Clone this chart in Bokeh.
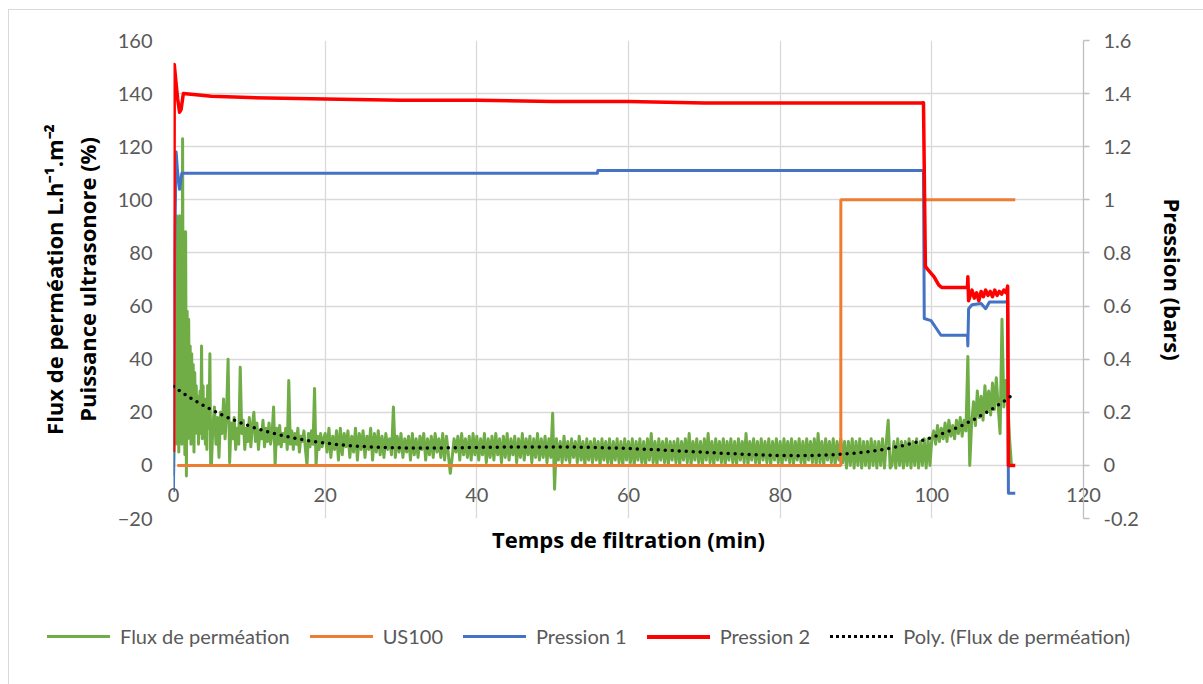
import numpy as np
from bokeh.plotting import figure
from bokeh.layouts import column
from bokeh.models import (Range1d, LinearAxis, FixedTicker, CustomJSTickFormatter, Div)
from bokeh.embed import file_html
from bokeh.resources import INLINE

# ---------------- data ----------------
# Flux de perméation (L.h-1.m-2) in four segments
flux_a_start, flux_a_step = 0.0, 0.1
flux_a = [-4, 10, 40, 8, 94, 10, 30, 5, 94, 12,
          40, 8, 123, 15, 35, 4, 88, -4, 58, 10,
          55, 18, 45, 8, 42, 15, 38, 5, 35, 20,
          30, 12, 26, 8, 22, 28, 12, 45, 10, 30,
          14, 22, 8, 25, 6, 30, 14, 20, 42, 0]
flux_b_start, flux_b_step = 5.0, 0.2
flux_b = [0, 15, 22, 8, 18, 3, 20, 12, 25, 10,
          20, 40, 1, 16, 10, 18, 6, 14, 8, 37,
          12, 17, 6, 14, 9, 18, 7, 15, 20, 9,
          16, 6, 13, 10, 17, 7, 14, 9, 16, 8,
          12, 22, 0, 14, 8, 15, 7, 12, 9, 14,
          6, 32, 8, 13, 6, 12, 8, 14, 5, 11,
          9, 13, 6, 0, 12, 7, 13, 8, 29, 0,
          11, 6, 12, 7, 10]
flux_c_start, flux_c_step = 20.0, 0.25
flux_c = [12, 5, 14, 3, 11, 6, 13, 2, 14, 4, 12, 7, 13, 3, 11, 5, 14, 2, 12, 6,
          13, 3, 11, 6, 14, 2, 12, 5, 13, 4, 11, 3, 12, 6, 10, 4, 22, 3, 11, 5,
          12, 3, 10, 5, 11, 2, 12, 4, 10, 3, 11, 6, 12, 2, 10, 4, 11, 3, 12, 5,
          10, 3, 12, 2, 11, 4, -3, 3, 10, 5, 11, 2, 12, 4, 10, 3, 11, 2, 12, 4,
          11, 2, 10, 4, 12, 1, 10, 3, 11, 2, 12, 4, 10, 1, 11, 3, 12, 2, 10, 4,
          11, 1, 10, 3, 12, 2, 10, 4, 11, 1, 10, 3, 12, 2, 10, 3, 11, 1, 10, 3,
          19.6, -9, 10, 2, 9, 1, 11, 2, 9, 1, 10, 3, 9, 1, 11, 2, 9, 0, 10, 2,
          9, 1, 10, 2, 9, 0, 10, 2, 9, 1, 10, 0, 9, 2, 10, 1, 9, 0, 10, 2,
          9, 1, 10, 0, 9, 2, 10, 1, 9, 0, 10, 2, 12, 1, 9, 0, 10, 2, 9, 1,
          10, 0, 9, 2, 9, 1, 10, 0, 9, 2, 10, 1, 12, 0, 9, 2, 10, 1, 9, 0,
          10, 2, 12, 1, 9, 0, 10, 2, 9, 1, 10, 0, 9, 2, 10, 1, 9, 0, 10, 2,
          9, 1, 12, 0, 9, 2, 10, 1, 9, 0, 10, 2, 9, 1, 10, 0, 9, 2, 10, 1,
          9, 0, 10, 2, 9, 1, 10, 0, 9, 2, 10, 1, 9, 0, 10, 2, 9, 1, 10, 0,
          12, 1, 9, 0, 10, 2, 9, 1, 10, 0, 9, 2, 10, 1, 9, -1, 9, 0, 10, -1,
          9, 0, 10, -1, 9, 0, 9, -1, 10, 0, 9, -1, 9, 0, 10, -1, 9, 17, -1, 0,
          9, -1, 10, 0, 9, -1, 9, 0, 10, -1, 9, 0, 10, -1, 9, 0, 10, -1, 10, 0]
flux_d_start, flux_d_step = 100.0, 0.25
flux_d = [10, 13, 8, 15, 9, 14, 10, 16, 9, 17,
          11, 15, 10, 17, 12, 18, 11, 17, 13, 41,
          0, 16, 24, 15, 28, 18, 26, 17, 30, 20,
          28, 19, 31, 21, 33, 22, 12, 55, 22, 32,
          25, 10, 0]

# US100 (%)
us_t = [0.5, 88.0, 88.0, 111.0]
us_v = [0, 0, 100, 100]

# Pression 1 (bars)
p1_t = [0.0, 0.15, 0.35, 0.55, 0.8, 1.1, 55.9, 55.95, 98.9, 99.0, 99.9, 101.2,
        104.7, 104.75, 104.85, 105.3, 106.5, 107.1, 107.6, 109.7, 110.0, 110.1, 111.0]
p1_v = [-0.10, 0.80, 1.18, 1.10, 1.04, 1.10, 1.10, 1.11, 1.11, 0.553, 0.545, 0.49,
        0.49, 0.45, 0.59, 0.605, 0.61, 0.59, 0.615, 0.615, 0.62, -0.105, -0.105]

# Pression 2 (bars)
p2_t = [0.0, 0.1, 0.3, 0.55, 0.8, 1.0, 1.3, 5, 10, 20, 30, 40, 50, 60, 70, 80, 90,
        98.6, 98.9, 99.15, 99.4, 100.3, 100.9, 101.3, 104.7, 104.75, 104.85,
        105.3, 105.6, 105.9, 106.2, 106.5, 106.8, 107.1, 107.4, 107.7, 108.0,
        108.3, 108.6, 108.9, 109.2, 109.5, 109.8, 110.0, 110.1, 111.0]
p2_v = [0.05, 1.51, 1.45, 1.38, 1.33, 1.34, 1.40, 1.39, 1.385, 1.38, 1.375, 1.375,
        1.37, 1.37, 1.365, 1.365, 1.365, 1.365, 1.366, 0.75, 0.74, 0.71, 0.68, 0.67,
        0.67, 0.71, 0.62, 0.66, 0.63, 0.65, 0.62, 0.655, 0.635, 0.66, 0.64, 0.655,
        0.635, 0.66, 0.64, 0.655, 0.645, 0.66, 0.65, 0.675, 0.0, 0.0]

x_ticks = [0, 20, 40, 60, 80, 100, 120]
y_ticks = [-20, 0, 20, 40, 60, 80, 100, 120, 140, 160]
y2_ticks = [-0.2, 0.0, 0.2, 0.4, 0.6, 0.8, 1.0, 1.2, 1.4, 1.6]

series_names = ["Flux de perméation", "US100", "Pression 1", "Pression 2",
                "Poly. (Flux de perméation)"]
series_colors = ["#70AD47", "#ED7D31", "#4472C4", "#FF0000", "black"]

# ---------------- build series ----------------
def seg_times(start, step, vals):
    return [start + step * i for i in range(len(vals))]

flux_t, flux_v, flux_w = [], [], []
for st, sp, vals in [(flux_a_start, flux_a_step, flux_a), (flux_b_start, flux_b_step, flux_b),
                     (flux_c_start, flux_c_step, flux_c), (flux_d_start, flux_d_step, flux_d)]:
    flux_t += seg_times(st, sp, vals)
    flux_v += list(vals)
    flux_w += [np.sqrt(sp)] * len(vals)

# polynomial trend line computed from the flux series (least squares, like Excel "Poly.")
poly = np.polynomial.Polynomial.fit(np.array(flux_t), np.array(flux_v), 4, w=np.array(flux_w))
trend_t = np.linspace(0, 111, 300)
trend_v = poly(trend_t)

# ---------------- styles ----------------
FONT = "Lato"
TITLE_FONT = "Open Sans"
TITLE_SIZE = "22px"
GREY_TXT = "#595959"
GRID = "#d9d9d9"
styles = [dict(line_color=series_colors[0], line_width=3, line_join="round"),
          dict(line_color=series_colors[1], line_width=3),
          dict(line_color=series_colors[2], line_width=3, line_join="round"),
          dict(line_color=series_colors[3], line_width=3.5, line_join="round"),
          dict(line_color=series_colors[4], line_width=3.5, line_dash="0 7", line_cap="round")]

# ---------------- main figure ----------------
fig = figure(frame_width=910, frame_height=478, x_range=Range1d(0, 120), y_range=Range1d(-20, 160),
             output_backend="svg", toolbar_location=None,
             min_border_left=164, min_border_right=114, min_border_top=30, min_border_bottom=60,
             x_axis_label="Temps de filtration (min)",
             y_axis_label="Flux de perméation L.h\u207b\u00b9.m\u207b\u00b2\nPuissance ultrasonore (%)")
fig.outline_line_color = None
fig.background_fill_color = "white"
fig.border_fill_color = "white"
fig.extra_y_ranges = {"pr": Range1d(-0.2, 1.6)}

fig.xgrid.ticker = FixedTicker(ticks=x_ticks)
fig.ygrid.ticker = FixedTicker(ticks=y_ticks)
for g in (fig.xgrid[0], fig.ygrid[0]):
    g.grid_line_color = GRID
    g.grid_line_width = 1.3

# x axis (below): labels pulled up next to the y=0 crossing, then the title
xa = fig.xaxis[0]
xa.ticker = FixedTicker(ticks=x_ticks)
xa.major_tick_out = 0
xa.major_tick_in = 0
xa.minor_tick_out = 0
xa.minor_tick_in = 0
xa.axis_line_color = None
xa.major_label_standoff = -31
xa.major_label_text_font = FONT
xa.major_label_text_font_size = "20px"
xa.major_label_text_color = GREY_TXT
xa.axis_label_text_font = TITLE_FONT
xa.axis_label_text_font_style = "bold"
xa.axis_label_text_font_size = TITLE_SIZE
xa.axis_label_text_color = "black"
xa.axis_label_standoff = 19

# left axis
ya = fig.yaxis[0]
ya.ticker = FixedTicker(ticks=y_ticks)
ya.axis_line_color = None
ya.major_tick_out = 0
ya.major_tick_in = 0
ya.minor_tick_out = 0
ya.major_label_standoff = 21
ya.major_label_text_font = FONT
ya.major_label_text_font_size = "20px"
ya.major_label_text_color = GREY_TXT
ya.axis_label_text_font = TITLE_FONT
ya.axis_label_text_font_style = "bold"
ya.axis_label_text_font_size = TITLE_SIZE
ya.axis_label_text_color = "black"
ya.axis_label_text_line_height = 1.1
ya.axis_label_standoff = 13

# right axis
ra = LinearAxis(y_range_name="pr", ticker=FixedTicker(ticks=y2_ticks),
                formatter=CustomJSTickFormatter(code="return String(Number(tick.toFixed(1)));"),
                axis_label="Pression (bars)")
ra.axis_line_color = "#bfbfbf"
ra.axis_line_width = 1.3
ra.major_tick_line_color = "#bfbfbf"
ra.major_tick_line_width = 1.3
ra.major_tick_out = 6
ra.major_tick_in = 0
ra.minor_tick_out = 0
ra.minor_tick_in = 0
ra.major_label_standoff = 14
ra.major_label_text_font = FONT
ra.major_label_text_font_size = "20px"
ra.major_label_text_color = GREY_TXT
ra.axis_label_text_font = TITLE_FONT
ra.axis_label_text_font_style = "bold"
ra.axis_label_text_font_size = TITLE_SIZE
ra.axis_label_text_color = "black"
ra.axis_label_standoff = 16
fig.add_layout(ra, "right")

# series
fig.line(flux_t, flux_v, **styles[0])
fig.line(us_t, us_v, **styles[1])
fig.line(p1_t, p1_v, y_range_name="pr", **styles[2])
fig.line(p2_t, p2_v, y_range_name="pr", **styles[3])
fig.line(trend_t, trend_v, **styles[4])

# ---------------- legend strip (below the chart, as in the Excel layout) ----------------
sample_css = ["border-top:3px solid {c}", "border-top:3px solid {c}", "border-top:3px solid {c}",
              "border-top:4px solid {c}", "border-top:3px dotted {c}"]
parts = []
for name, col, css in zip(series_names, series_colors, sample_css):
    parts.append(
        '<span style="display:inline-flex;align-items:center;margin-right:20px;">'
        '<span style="display:inline-block;width:63px;height:0;%s;margin-right:10px;"></span>'
        '%s</span>' % (css.format(c=col), name))
legend_html = ('<div style="position:relative;width:1188px;height:100px;">'
               '<div style="position:absolute;left:33px;top:40px;display:flex;align-items:center;'
               'white-space:nowrap;font-family:Lato;font-size:20px;line-height:27px;color:%s;">%s</div>'
               '</div>' % (GREY_TXT, "".join(parts)))
lg = Div(text=legend_html, width=1188, height=100)

p = column(fig, lg, spacing=0,
           styles={"margin-left": "8px", "margin-top": "9px",
                   "border-left": "1px solid #d9d9d9", "border-top": "1px solid #d9d9d9"})

open("out.html", "w").write(file_html(p, INLINE))
